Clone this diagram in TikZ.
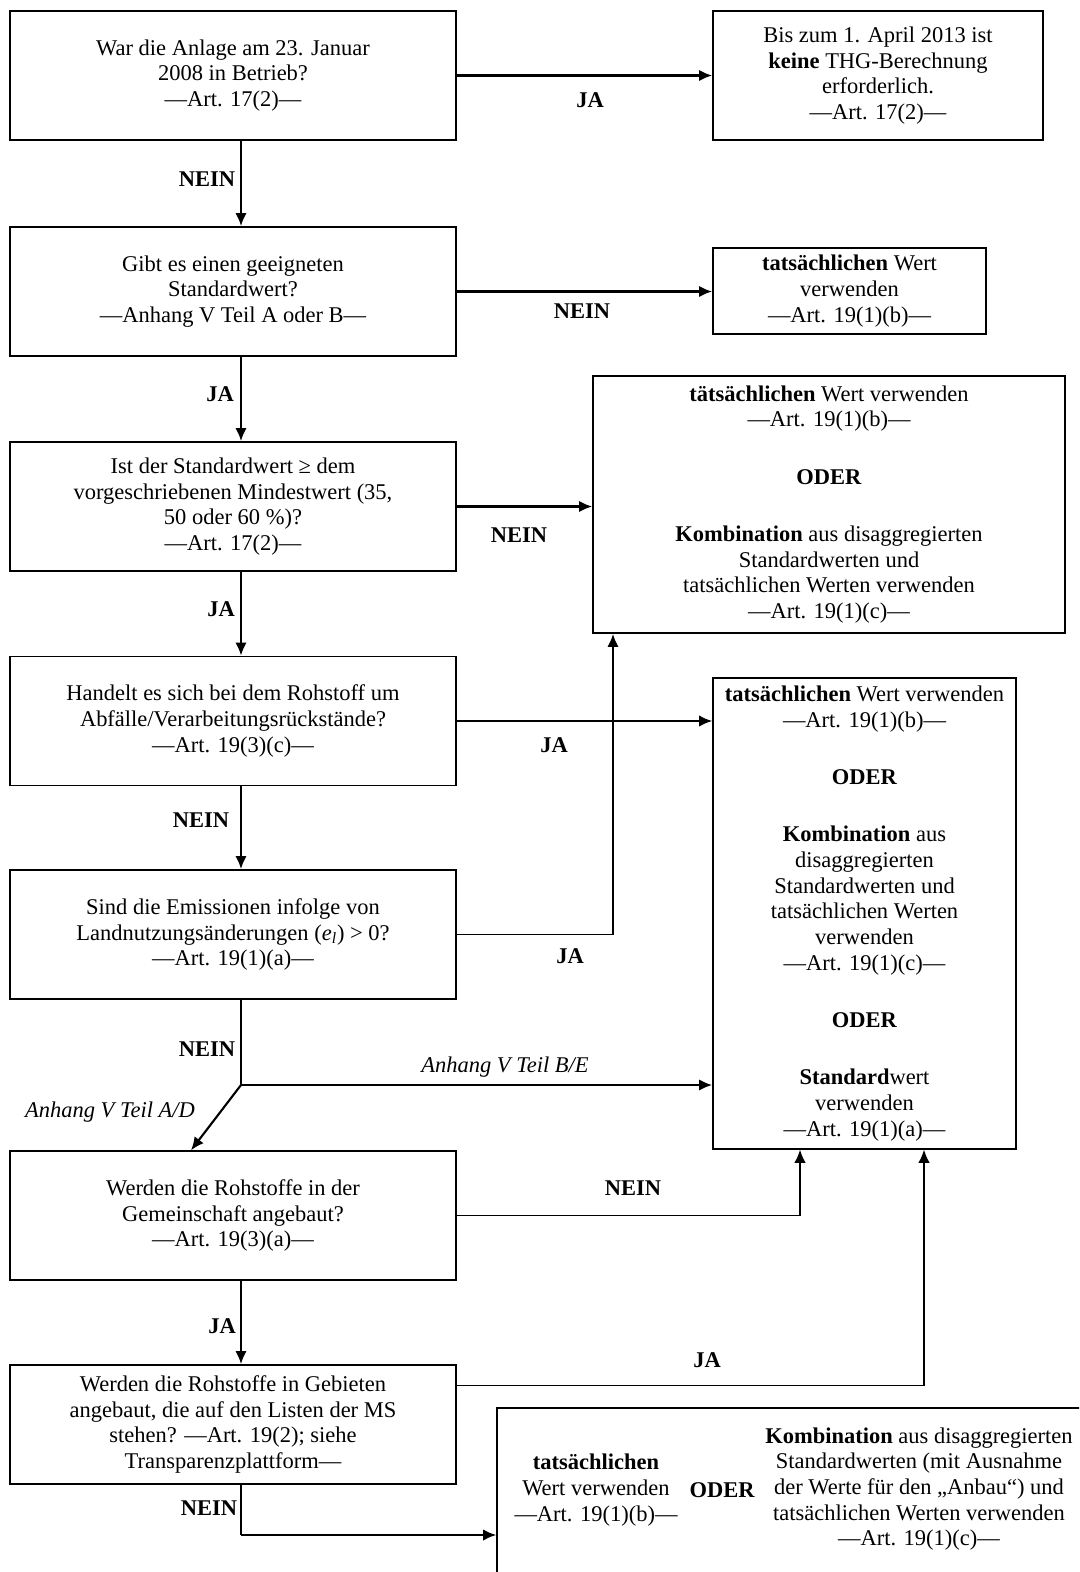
\documentclass[tikz,border=0pt]{standalone}
\usepackage{fontspec}
\setmainfont{Liberation Serif}
\usepackage{tikz}
\usetikzlibrary{arrows.meta,positioning}
\newcommand{\txt}{\fontsize{12.8}{14.6}\selectfont}
\tikzset{
  frage/.style={draw, line width=0.8pt, align=center, inner sep=2pt,
    minimum width=8.92cm, minimum height=2.58cm, font=\txt},
  pfeil/.style={line width=1.6pt, -{Latex[length=7.5pt,width=6.5pt]}},
  pfeildn/.style={line width=0.8pt, -{Latex[length=7.5pt,width=6.5pt]}},
  duenn/.style={line width=0.8pt},
  lbl/.style={font=\txt\bfseries, inner sep=1pt},
  anh/.style={font=\txt\itshape, inner sep=1pt}
}

\begin{document}
\begin{tikzpicture}[x=0.02cm, y=-0.02cm]
\useasboundingbox (0,0) rectangle (1079,1572);
\clip (0,0) rectangle (1079,1572);

% linke Spalte
\node[frage] (b1) at (233,75.5) {War die Anlage am 23. Januar\\2008 in Betrieb?\\—Art. 17(2)—};
\node[frage] (b2) at (233,291.5) {Gibt es einen geeigneten\\Standardwert?\\—Anhang V Teil A oder B—};
\node[frage] (b3) at (233,506.5) {Ist der Standardwert ≥ dem\\vorgeschriebenen Mindestwert (35,\\50 oder 60 \%)?\\—Art. 17(2)—};
\node[frage] (b4) at (233,721) {Handelt es sich bei dem Rohstoff um\\Abfälle/Verarbeitungsrückstände?\\—Art. 19(3)(c)—};
\node[frage] (b5) at (233,934.5) {Sind die Emissionen infolge von\\Landnutzungsänderungen ({\itshape e\textsubscript{l}}) > 0?\\—Art. 19(1)(a)—};
\node[frage] (b6) at (233,1215.5) {Werden die Rohstoffe in der\\Gemeinschaft angebaut?\\—Art. 19(3)(a)—};
\node[frage, minimum height=2.38cm] (b7) at (233,1424.5) {Werden die Rohstoffe in Gebieten\\angebaut, die auf den Listen der MS\\stehen? —Art. 19(2); siehe\\Transparenzplattform—};

% Ergebnisse
\node[frage, minimum width=6.6cm] (r1) at (878,75.5) {Bis zum 1. April 2013 ist\\\textbf{keine} THG-Berechnung\\erforderlich.\\—Art. 17(2)—};
\node[frage, minimum width=5.46cm, minimum height=1.72cm] (r2) at (849.5,291) {\textbf{tatsächlichen} Wert\\verwenden\\—Art. 19(1)(b)—};
\node[frage, minimum width=9.44cm, minimum height=5.14cm] (rA) at (829,504.5) {\textbf{tätsächlichen} Wert verwenden\\—Art. 19(1)(b)—\\[18pt]\textbf{ODER}\\[18pt]\textbf{Kombination} aus disaggregierten\\Standardwerten und\\tatsächlichen Werten verwenden\\—Art. 19(1)(c)—};
\node[frage, minimum width=6.06cm, minimum height=9.42cm] (rB) at (864.5,913.5) {\textbf{tatsächlichen} Wert verwenden\\—Art. 19(1)(b)—\\[18pt]\textbf{ODER}\\[18pt]\textbf{Kombination} aus\\disaggregierten\\Standardwerten und\\tatsächlichen Werten\\verwenden\\—Art. 19(1)(c)—\\[18pt]\textbf{ODER}\\[18pt]\textbf{Standard}wert\\verwenden\\—Art. 19(1)(a)—};
\node[draw, line width=0.8pt, minimum width=12.26cm, minimum height=3.84cm] (rC) at (803.5,1504) {};
\node[align=center, font=\txt] (rC1) at (596,1490) {\textbf{tatsächlichen}\\Wert verwenden\\—Art. 19(1)(b)—};
\node[lbl] (rC2) at (722,1490) {ODER};
\node[align=center, font=\txt] (rC3) at (919,1489) {\textbf{Kombination} aus disaggregierten\\Standardwerten (mit Ausnahme\\der Werte für den „Anbau“) und\\tatsächlichen Werten verwenden\\—Art. 19(1)(c)—};

% Verbindungen
\coordinate (spine) at (241,0);
\coordinate (colA) at (613,0);
\coordinate (colB) at (800,0);
\coordinate (colC) at (924,0);
\coordinate (ad) at (191,0);
\coordinate (gabel) at (241,1085);
\coordinate (knick7) at (241,1535);

\foreach \a/\b in {b1/b2,b2/b3,b3/b4,b4/b5,b6/b7}
  \draw[pfeil] (\a.south -| spine) -- (\b.north -| spine);
\draw[pfeil] (b1.east) -- (r1.west);
\draw[pfeil] (b2.east) -- (b2.east -| r2.west);
\draw[pfeil] (b3.east) -- (b3.east -| rA.west);
\draw[pfeil, line width=1.2pt] (b4.east) -- (b4.east -| rB.west);
\draw[duenn] (b5.east) -- (b5.east -| colA);
\draw[pfeil] (b5.east -| colA) -- (rA.south -| colA);
\draw[duenn] (b5.south -| spine) -- (gabel);
\draw[pfeil] (gabel) -- (gabel -| rB.west);
\draw[pfeil, line width=1.2pt] (gabel) -- (b6.north -| ad);
\draw[pfeildn] (b6.east) -| (rB.south -| colB);
\draw[pfeildn] ([yshift=-0.42cm]b7.north east) -| (rB.south -| colC);
\draw[duenn] (b7.south -| spine) -- (knick7);
\draw[pfeil, line width=1.2pt] (knick7) -- (knick7 -| rC.west);

% Beschriftungen
\node[lbl] (l-ja1) at (590,100) {JA};
\node[lbl] (l-nein1) at (207,179) {NEIN};
\node[lbl] (l-nein2) at (582,311) {NEIN};
\node[lbl] (l-ja2) at (220,394) {JA};
\node[lbl] (l-nein3) at (519,535) {NEIN};
\node[lbl] (l-ja3) at (221,609) {JA};
\node[lbl] (l-ja4) at (554,745) {JA};
\node[lbl] (l-nein4) at (201,820) {NEIN};
\node[lbl] (l-ja5) at (570,956) {JA};
\node[lbl] (l-nein5) at (207,1049) {NEIN};
\node[anh] (l-be) at (505,1067) {Anhang V Teil B/E};
\node[anh] (l-ad) at (110,1112) {Anhang V Teil A/D};
\node[lbl] (l-nein6) at (633,1188) {NEIN};
\node[lbl] (l-ja6) at (222,1326) {JA};
\node[lbl] (l-ja7) at (707,1360) {JA};
\node[lbl] (l-nein7) at (209,1508) {NEIN};
\end{tikzpicture}
\end{document}
